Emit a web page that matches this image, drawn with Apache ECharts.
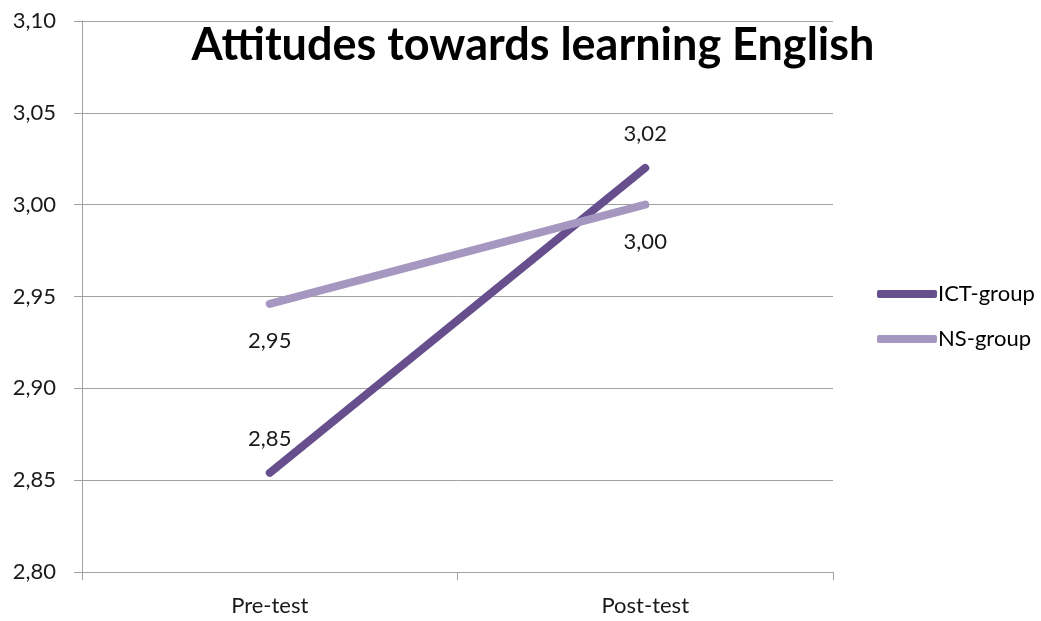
<!DOCTYPE html>
<html>
<head>
<meta charset="utf-8">
<script src="https://cdn.jsdelivr.net/npm/echarts@6/dist/echarts.min.js"></script>
<style>
  html, body { margin: 0; padding: 0; background: #fff; }
  #chart { width: 1041px; height: 621px; }
</style>
</head>
<body>
<div id="chart"></div>
<script>
// Mean attitude scores before and after the intervention
const categories = ['Pre-test', 'Post-test'];
const ictGroup = [2.854, 3.02];
const nsGroup = [2.946, 3.00];
const yTicks = { min: 2.80, max: 3.10, step: 0.05 };

const FONT = 'Lato, "Open Sans", sans-serif';
const fmt = v => v.toFixed(2).replace('.', ',');

const chart = echarts.init(document.getElementById('chart'), null, { renderer: 'canvas' });
chart.setOption({
  animation: false,
  title: {
    text: 'Attitudes towards learning English',
    left: 528, top: 18, textAlign: 'center',
    textStyle: { fontFamily: FONT, fontWeight: 'bold', fontSize: 45, color: '#000' }
  },
  legend: {
    orient: 'vertical', left: 872, top: 278,
    itemWidth: 60, itemHeight: 8, itemGap: 23,
    icon: 'roundRect',
    textStyle: { fontFamily: FONT, fontSize: 22, color: '#000', padding: [0, 0, 0, -4] },
    data: ['ICT-group', 'NS-group']
  },
  grid: { left: 82, right: 208, top: 21, bottom: 49, containLabel: false },
  xAxis: {
    type: 'category', data: categories, boundaryGap: true,
    axisLine: { lineStyle: { color: '#a0a0a0', width: 1 } },
    axisTick: { show: true, length: 8, lineStyle: { color: '#a0a0a0' } },
    axisLabel: { fontFamily: FONT, fontSize: 22, color: '#1a1a1a', margin: 23 }
  },
  yAxis: {
    type: 'value', min: yTicks.min, max: yTicks.max, interval: yTicks.step,
    axisLine: { show: true, lineStyle: { color: '#a0a0a0', width: 1 } },
    axisTick: { show: true, length: 8, lineStyle: { color: '#a0a0a0' } },
    splitLine: { lineStyle: { color: '#a0a0a0', width: 1 } },
    axisLabel: { fontFamily: FONT, fontSize: 22, color: '#1a1a1a', margin: 26, formatter: v => fmt(v) }
  },
  series: [
    {
      name: 'ICT-group', type: 'line', data: ictGroup,
      symbol: 'circle', symbolSize: 0, showSymbol: true, color: '#664f8c',
      lineStyle: { width: 8, cap: 'round', color: '#664f8c' },
      label: { show: true, position: 'top', distance: 23, fontFamily: FONT, fontSize: 22, color: '#1a1a1a', formatter: p => fmt(p.value) },
      emphasis: { disabled: true }
    },
    {
      name: 'NS-group', type: 'line', data: nsGroup,
      symbol: 'circle', symbolSize: 0, showSymbol: true, color: '#a597bf',
      lineStyle: { width: 8, cap: 'round', color: '#a597bf' },
      label: { show: true, position: 'bottom', distance: 26, fontFamily: FONT, fontSize: 22, color: '#1a1a1a', formatter: p => fmt(p.value) },
      emphasis: { disabled: true }
    }
  ]
});
</script>
</body>
</html>
